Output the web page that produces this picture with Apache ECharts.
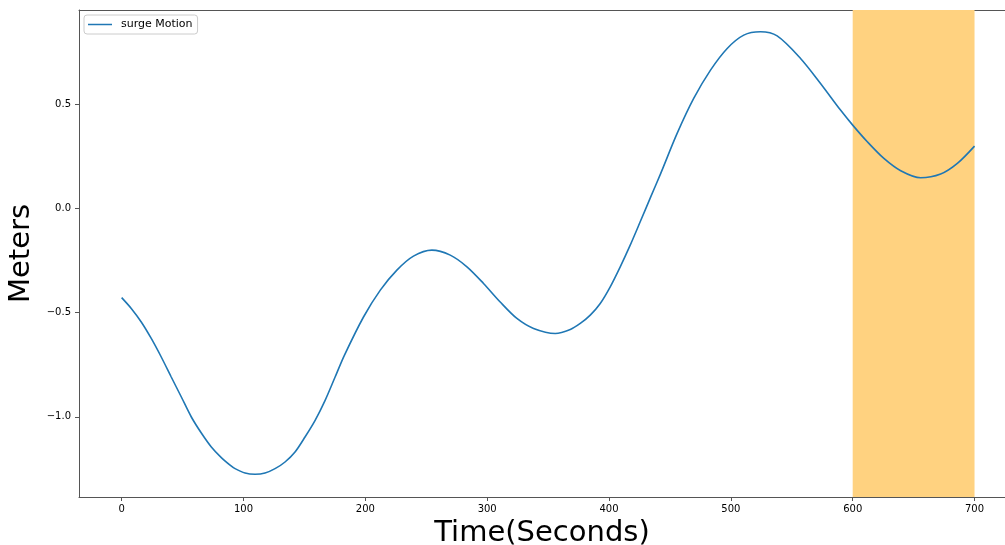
<!DOCTYPE html>
<html>
<head>
<meta charset="utf-8">
<script src="https://cdn.jsdelivr.net/npm/echarts@6/dist/echarts.min.js"></script>
<style>html,body{margin:0;padding:0;background:#fff}#c{width:1005px;height:545px}</style>
</head>
<body>
<div id="c"></div>
<script>
const times = [0, 7.9, 16.1, 24.3, 32.5, 40.7, 49, 57.2, 65.4, 73.6, 81.8, 89, 93.1, 101.3, 109.5, 117.7, 125.9, 134.1, 142.3, 150.5, 158.8, 167, 175.2, 182.8,
  198.5, 212.3, 225.9, 239.5, 254.6, 269.7, 283.4, 297, 310.7, 324.4, 338.1, 355.9, 368.2,
  376.4, 384.6, 392.8, 401, 409.2, 417.4, 425.6, 434.4, 442.2, 455.9, 469.5, 483.3, 497, 510.6, 524.3, 538,
  557.2, 573.6, 590, 600, 612, 625.6, 639.4, 655.8, 672.2, 685.9, 700];
const surge = [-0.428, -0.480, -0.545, -0.624, -0.713, -0.809, -0.905, -1.001, -1.078, -1.145, -1.196, -1.232, -1.249, -1.270, -1.276, -1.270, -1.249, -1.217, -1.169, -1.097, -1.017, -0.921, -0.809, -0.705,
  -0.521, -0.392, -0.296, -0.229, -0.200, -0.224, -0.280, -0.360, -0.449, -0.528, -0.576, -0.600, -0.581,
  -0.552, -0.512, -0.456, -0.376, -0.280, -0.176, -0.064, 0.058, 0.165, 0.360, 0.528, 0.664, 0.768, 0.832, 0.848, 0.828,
  0.720, 0.600, 0.472, 0.400, 0.320, 0.240, 0.181, 0.147, 0.165, 0.216, 0.299];
const xTicks = [0, 100, 200, 300, 400, 500, 600, 700];
const yTicks = [-1.0, -0.5, 0.0, 0.5];
const spanRange = [600, 700];
const seriesName = 'surge Motion';

const axisColor = '#555';
const font = 'DejaVu Sans';
const chart = echarts.init(document.getElementById('c'));
chart.setOption({
  animation: false,
  backgroundColor: '#fff',
  grid: { left: 79, right: 0, top: 10, bottom: 48, containLabel: false, outerBoundsMode: 'none' },
  legend: {
    left: 84, top: 15, orient: 'vertical',
    padding: [4, 5, 4, 4],
    backgroundColor: '#fff', borderColor: '#ccc', borderWidth: 1, borderRadius: 3,
    itemWidth: 24, itemHeight: 12,
    icon: 'path://M0,5.25 L24,5.25 L24,6.75 L0,6.75 Z',
    textStyle: { fontFamily: font, fontSize: 11, color: '#000', padding: [0, 0, 0, 4] },
    data: [seriesName]
  },
  xAxis: [{
    type: 'value', min: -35, max: 725,
    name: 'Time(Seconds)', nameLocation: 'middle', nameGap: 19,
    nameTextStyle: { fontFamily: font, fontSize: 29, color: '#000' },
    axisLine: { show: true, onZero: false, lineStyle: { color: axisColor, width: 1 } },
    axisTick: { show: true, length: 4, customValues: xTicks, lineStyle: { color: axisColor } },
    axisLabel: { customValues: xTicks, margin: 7, fontFamily: font, fontSize: 10, color: '#000' },
    splitLine: { show: false }
  }, {
    type: 'value', min: -35, max: 725, position: 'top',
    axisLine: { show: true, onZero: false, lineStyle: { color: axisColor, width: 1 } },
    axisTick: { show: false }, axisLabel: { show: false }, splitLine: { show: false }
  }],
  yAxis: {
    type: 'value', min: -1.385, max: 0.9525,
    name: 'Meters', nameLocation: 'middle', nameGap: 37, nameRotate: 90,
    nameTextStyle: { fontFamily: font, fontSize: 29, color: '#000' },
    axisLine: { show: true, onZero: false, lineStyle: { color: axisColor, width: 1 } },
    axisTick: { show: true, length: 4, customValues: yTicks, lineStyle: { color: axisColor } },
    axisLabel: {
      customValues: yTicks, margin: 8, fontFamily: font, fontSize: 10, color: '#000',
      formatter: v => (v < 0 ? '\u2212' : '') + Math.abs(v).toFixed(1)
    },
    splitLine: { show: false }
  },
  series: [{
    name: seriesName, type: 'line', xAxisIndex: 0,
    data: times.map((t, i) => [t, surge[i]]),
    symbol: 'none', smooth: 0.3,
    lineStyle: { color: '#1f77b4', width: 1.6 },
    itemStyle: { color: '#1f77b4' },
    z: 3,
    markArea: {
      silent: true,
      itemStyle: { color: '#FFD280', opacity: 1 },
      data: [[{ xAxis: spanRange[0] }, { xAxis: spanRange[1] }]]
    }
  }]
});
</script>
</body>
</html>
